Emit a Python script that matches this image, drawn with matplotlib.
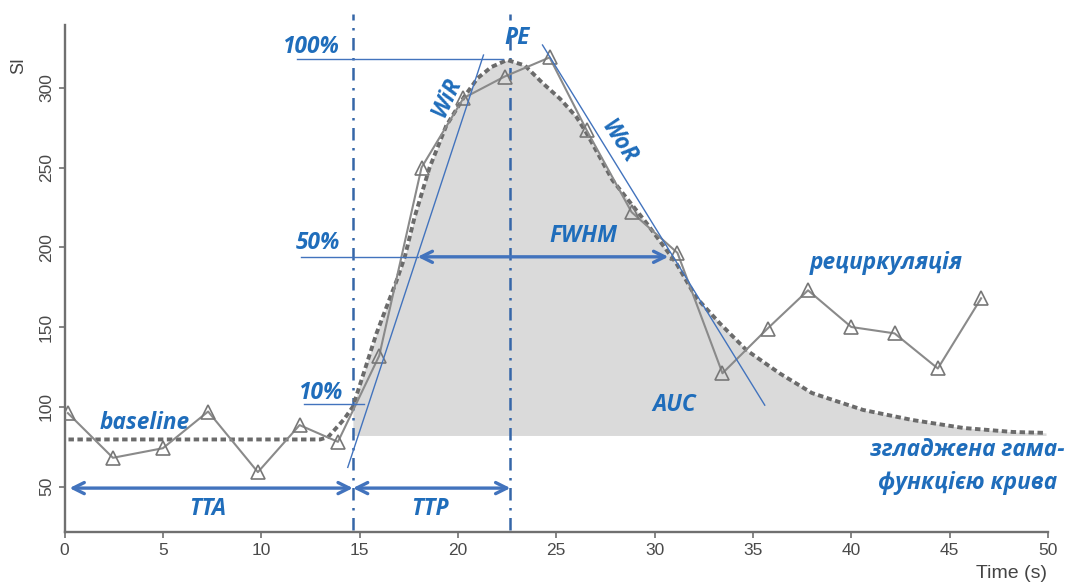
import matplotlib
matplotlib.use("Agg")
import matplotlib.pyplot as plt

# measured signal (triangles)
t_meas = [0.17, 2.46, 5.0, 7.3, 9.83, 11.95, 13.9, 16.0, 18.15, 20.28, 22.37,
          24.66, 26.54, 28.83, 31.16, 33.45, 35.74, 37.8, 40.0, 42.2, 44.4, 46.6]
si_meas = [96, 68, 74, 97, 59, 88.5, 78, 132, 250, 293.5, 307,
           319, 273.5, 222, 196.5, 121, 149, 173, 150, 146, 124, 168]

# gamma-variate smoothed curve, read point by point
t_fit = [0.2, 13.0, 13.4, 14.2, 14.66, 15.86, 16.88, 17.3, 17.8, 18.56, 19.4, 20.3,
         21.0, 21.7, 22.5, 23.4, 24.3, 25.2, 26.03, 26.54, 27.86, 29.6, 31.1, 32.1,
         33.3, 34.67, 36.35, 38.0, 40.6, 43.1, 45.7, 48.2, 49.9]
si_fit = [79.5, 79.5, 81, 92, 100, 146, 179, 194, 219, 250, 276, 294,
          306, 313, 317.4, 314, 303, 293, 281.6, 271.6, 242, 215, 190, 168.7,
          152.5, 135.5, 121, 108.6, 98, 91.7, 86.7, 84.2, 83.6]
fill_floor = 82

# annotation levels
t_arrival = 14.66
t_peak = 22.67
lvl_100 = 317.8
lvl_50 = 194
lvl_10 = 102
arrow_y = 49
fwhm_x = [17.95, 30.7]
wir_line = ([14.4, 21.3], [62, 320.5])
wor_line = ([24.3, 35.6], [326.8, 101])

blue_txt = "#1f6dbb"
blue_ln = "#4273bd"
blue_dd = "#3566a8"

fig = plt.figure(figsize=(10.72, 5.83), dpi=100)
ax = fig.add_axes([0.0602, 0.087, 0.9174, 0.870])
ax.set_xlim(0, 50)
ax.set_ylim(21.3, 339.3)

# AUC fill under fitted curve, from arrival on
fx = [t for t in t_fit if t >= t_arrival]
fy = [y for t, y in zip(t_fit, si_fit) if t >= t_arrival]
ax.fill_between(fx, fy, fill_floor, color="#dadada", lw=0, zorder=1)

# vertical dash-dot markers
for xv in [t_arrival, t_peak]:
    ax.plot([xv, xv], [23, 346], color=blue_dd, lw=1.8, ls=(0, (5, 3, 1, 3)),
            clip_on=False, zorder=2)

ax.plot(t_fit, si_fit, color="#6b6b6b", lw=2.8, ls=(0, (1.4, 0.9)), zorder=3)
ax.plot(t_meas, si_meas, color="#8a8a8a", lw=1.5, marker="^", ms=10,
        mfc="none", mec="#777777", mew=1.2, zorder=4)

# thin reference lines
ax.plot([11.8, 22.3], [lvl_100, lvl_100], color=blue_ln, lw=1, zorder=5)
ax.plot([12.0, fwhm_x[0]], [lvl_50, lvl_50], color=blue_ln, lw=1, zorder=5)
ax.plot([12.2, 15.25], [lvl_10, lvl_10], color=blue_ln, lw=1, zorder=5)
ax.plot(*wir_line, color=blue_ln, lw=1, zorder=5)
ax.plot(*wor_line, color=blue_ln, lw=1, zorder=5)

# double arrows
arr = dict(arrowstyle="<->", color=blue_ln, lw=2.4, mutation_scale=20,
           shrinkA=0, shrinkB=0)
ax.annotate("", xy=(0.25, arrow_y), xytext=(t_arrival, arrow_y), arrowprops=arr, zorder=6)
ax.annotate("", xy=(t_arrival, arrow_y), xytext=(t_peak, arrow_y), arrowprops=arr, zorder=6)
ax.annotate("", xy=(fwhm_x[0], lvl_50), xytext=(fwhm_x[1], lvl_50), arrowprops=arr, zorder=6)

tkw = dict(color=blue_txt, fontsize=16.3, fontweight="bold", style="italic",
           family="Open Sans", zorder=7)
ax.text(14.0, 325.6, "100%", ha="right", va="center", **tkw)
ax.text(23.03, 331, "PE", ha="center", va="center", **tkw)
ax.text(19.47, 294, "WiR", ha="center", va="center", rotation=65,
        rotation_mode="anchor", **tkw)
ax.text(28.2, 266, "WoR", ha="center", va="center", rotation=-57,
        rotation_mode="anchor", **tkw)
ax.text(14.0, 202.5, "50%", ha="right", va="center", **tkw)
ax.text(26.4, 207, "FWHM", ha="center", va="center", **tkw)
ax.text(14.2, 108.6, "10%", ha="right", va="center", **tkw)
ax.text(1.8, 90, "baseline", ha="left", va="center", **tkw)
ax.text(7.3, 36, "TTA", ha="center", va="center", **tkw)
ax.text(18.6, 36, "TTP", ha="center", va="center", **tkw)
ax.text(31.0, 101, "AUC", ha="center", va="center", **tkw)
ax.text(41.8, 190, "рециркуляція", ha="center", va="center", **tkw)
ax.text(45.9, 73, "згладжена гама-", ha="center", va="center", clip_on=False, **tkw)
ax.text(45.9, 52, "функцією крива", ha="center", va="center", **tkw)

# axes styling
for s in ["top", "right"]:
    ax.spines[s].set_visible(False)
for s in ["left", "bottom"]:
    ax.spines[s].set_color("#707070")
    ax.spines[s].set_linewidth(1.7)
ax.set_xticks(range(0, 51, 5))
ax.set_yticks(range(50, 301, 50))
ax.tick_params(colors="#707070", width=1.2, length=4.5, pad=3, labelcolor="#4a4a4a",
               labelsize=12.5)
for lab in ax.get_yticklabels():
    lab.set_rotation(90)
    lab.set_va("center")
for lab in ax.get_xticklabels() + ax.get_yticklabels():
    lab.set_family("Liberation Sans")

fig.text(18.5 / 1072, 1 - 65 / 583, "SI", rotation=90, ha="center", va="center",
         fontsize=13, color="#444444", family="Liberation Sans")
fig.text(1012 / 1072, 1 - 574 / 583, "Time (s)", ha="center", va="center",
         fontsize=14, color="#444444", family="Liberation Sans")

fig.savefig("out.png", dpi=100)
